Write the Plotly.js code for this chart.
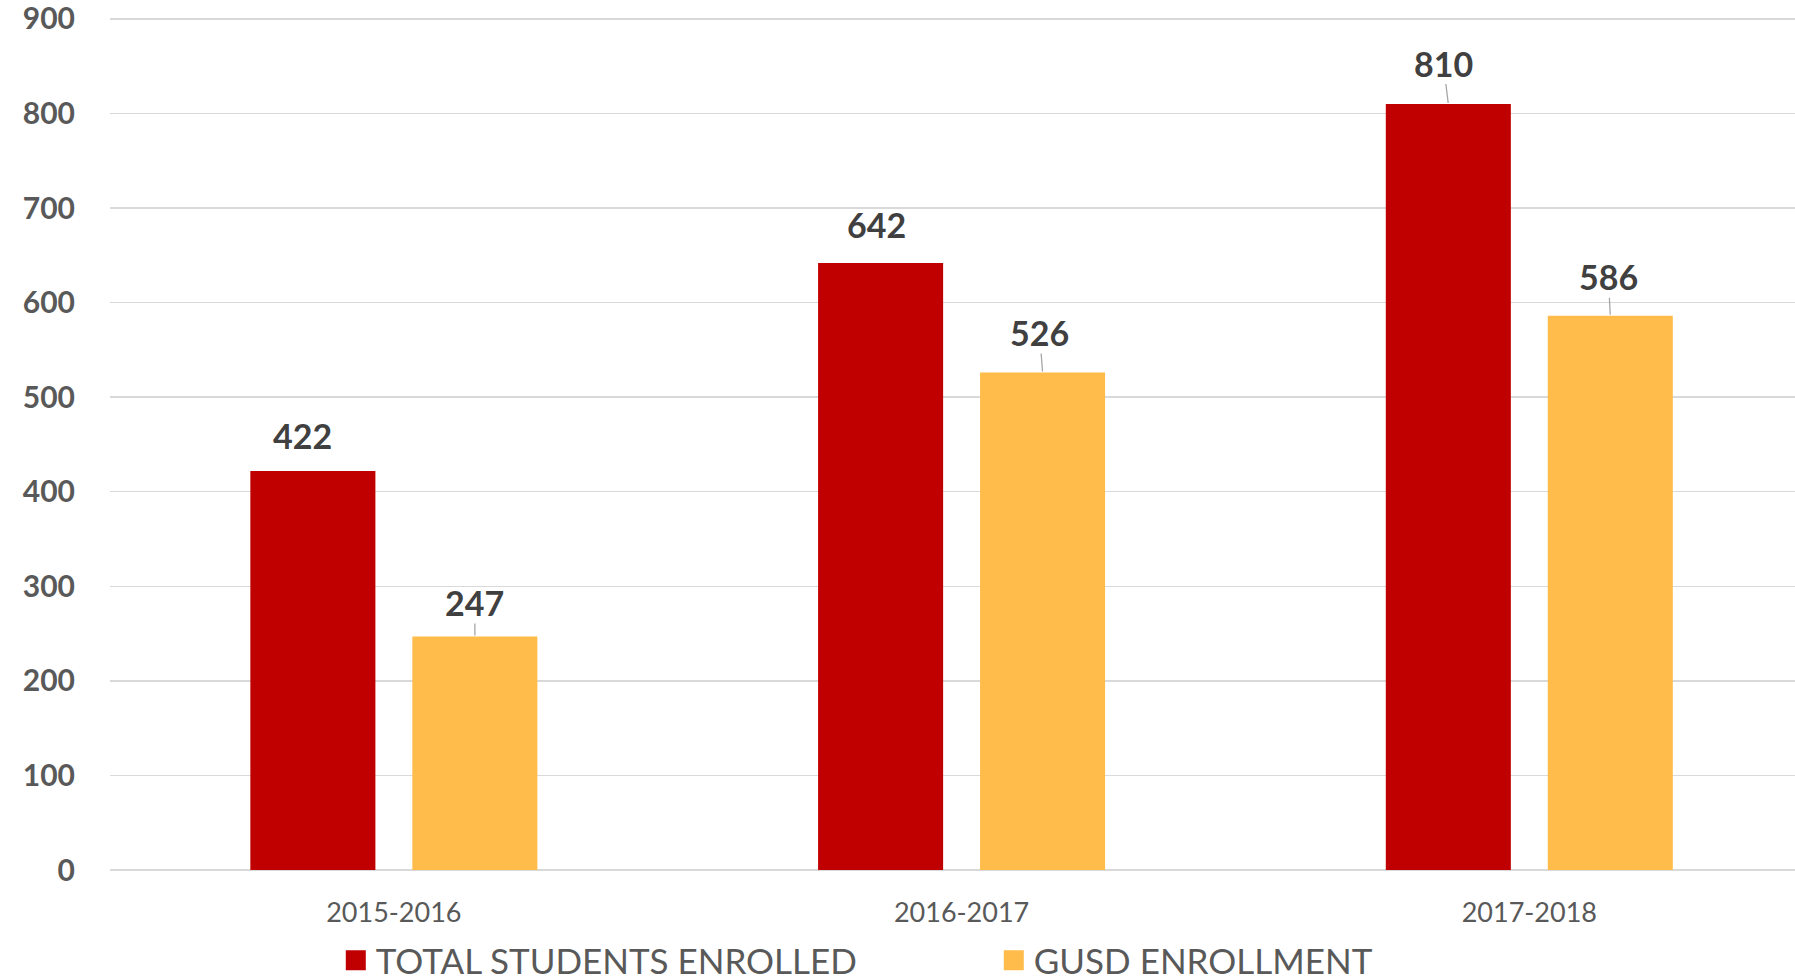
<!DOCTYPE html>
<html>
<head>
<meta charset="utf-8">
<script src="https://cdn.plot.ly/plotly-3.0.1.min.js"></script>
<style>
html,body{margin:0;padding:0;background:#fff;}
#chart{width:1795px;height:980px;}
</style>
</head>
<body>
<div id="chart"></div>
<script>
// ---- data ----
const categories = ["2015-2016", "2016-2017", "2017-2018"];
const seriesNames = ["TOTAL STUDENTS ENROLLED", "GUSD ENROLLMENT"];
const totalEnrolled = [422, 642, 810];
const gusdEnrollment = [247, 526, 586];
const yTickValues = [0, 100, 200, 300, 400, 500, 600, 700, 800, 900];

// ---- styling ----
const colors = ["#C00000", "#FFBC4A"];
const textColor = "#595959";
const labelColor = "#404040";
const gridColor = "#D9D9D9";
// label offsets (px) from top of each bar, per series, per category
const labelOffsets = [
  [[-10, -35], [-4, -38], [-5, -41]],
  [[0, -34], [-3, -40], [-2, -39]]
];
const leaderVisible = [[false, false, true], [true, true, true]];

const seriesValues = [totalEnrolled, gusdEnrollment];

const traces = seriesValues.map((vals, i) => ({
  type: "bar",
  name: seriesNames[i],
  x: categories,
  y: vals,
  marker: {color: colors[i]},
  hoverinfo: "x+y"
}));

const annotations = [];
seriesValues.forEach((vals, i) => {
  vals.forEach((v, j) => {
    const off = labelOffsets[i][j];
    annotations.push({
      x: categories[j],
      y: v,
      xref: "x",
      yref: "y",
      xshift: i === 0 ? -81 : 81,
      text: String(v),
      showarrow: true,
      arrowhead: 0,
      arrowwidth: 1.3,
      arrowcolor: leaderVisible[i][j] ? "#A6A6A6" : "rgba(0,0,0,0)",
      standoff: 1,
      ax: off[0],
      ay: off[1],
      borderpad: 0,
      font: {family: "Lato, 'Open Sans', sans-serif", size: 34, color: labelColor, weight: 700}
    });
  });
});

const layout = {
  width: 1795,
  height: 980,
  margin: {l: 110, r: 0, t: 17, b: 110, pad: 0, autoexpand: false},
  paper_bgcolor: "#ffffff",
  plot_bgcolor: "#ffffff",
  barmode: "group",
  bargap: 0.4294,
  bargroupgap: 0.228,
  showlegend: true,
  legend: {
    orientation: "h",
    x: 0.134,
    xanchor: "left",
    y: -0.106,
    yanchor: "middle",
    font: {family: "Lato, 'Open Sans', sans-serif", size: 35, color: textColor},
    itemclick: false,
    entrywidth: 613,
    traceorder: "normal"
  },
  xaxis: {
    type: "category",
    range: [-0.5, 2.468],
    tickfont: {family: "Lato, 'Open Sans', sans-serif", size: 27, color: textColor},
    ticks: "outside",
    ticklen: 19,
    tickcolor: "rgba(0,0,0,0)",
    showline: false,
    showgrid: false,
    zeroline: false,
    fixedrange: true
  },
  yaxis: {
    range: [0, 902],
    tickvals: yTickValues,
    ticktext: yTickValues.map(String),
    tickfont: {family: "Lato, 'Open Sans', sans-serif", size: 30, color: textColor, weight: 700},
    ticks: "outside",
    ticklen: 28,
    tickcolor: "rgba(0,0,0,0)",
    ticklabeloverflow: "allow",
    showgrid: true,
    gridcolor: gridColor,
    gridwidth: 1.5,
    zeroline: true,
    zerolinecolor: gridColor,
    zerolinewidth: 2,
    showline: false,
    fixedrange: true
  },
  annotations: annotations
};

Plotly.newPlot("chart", traces, layout, {displayModeBar: false, staticPlot: true}).then(gd => {
  // enlarge the legend square swatches
  gd.querySelectorAll(".legend .legendpoints path").forEach(p => {
    p.setAttribute("d", "M10,10H-10V-10H10Z");
  });
});
</script>
</body>
</html>
